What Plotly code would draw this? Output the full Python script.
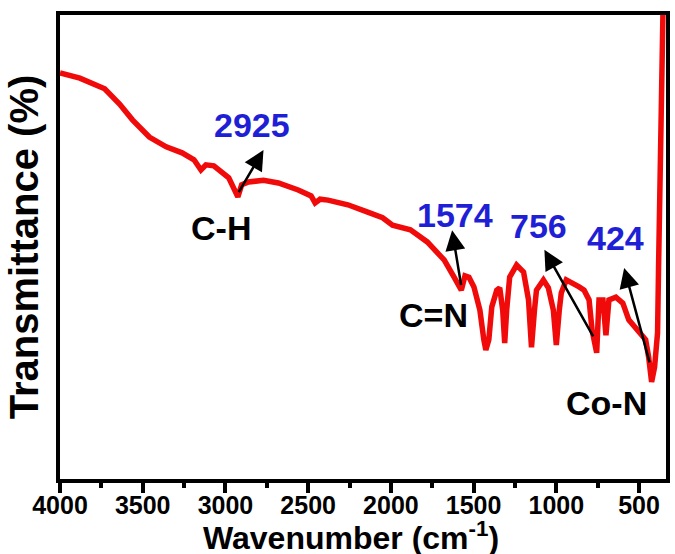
import plotly.graph_objects as go

# FTIR spectrum
wavenumber = [4000, 3880, 3730, 3640, 3562, 3460, 3358, 3262, 3190, 3148, 3118, 3070, 2980,
              2925, 2902, 2860, 2770, 2680, 2560, 2482, 2458, 2428, 2380, 2260, 2140, 2050,
              1990, 1882, 1780, 1678, 1618, 1574, 1552, 1528, 1498, 1462, 1438, 1426, 1408,
              1390, 1360, 1342, 1324, 1312, 1300, 1282, 1240, 1198, 1168, 1150, 1132, 1120,
              1078, 1048, 1018, 1000, 982, 970, 940, 898, 862, 832, 802, 784, 756, 742, 718,
              700, 682, 640, 598, 562, 502, 460, 442, 424, 406, 388, 382, 370, 358, 352]
transmittance = [87.5, 86.4, 84.1, 80.8, 77.4, 73.7, 71.6, 70.3, 68.8, 66.6, 67.7, 67.5, 64.9,
                 60.8, 63.4, 64.0, 64.4, 63.8, 62.3, 61.0, 59.5, 60.3, 60.1, 59.1, 57.5, 56.3,
                 54.7, 53.7, 51.1, 47.2, 43.5, 40.7, 43.8, 43.5, 41.4, 36.4, 30.0, 27.8, 30.0,
                 37.1, 40.7, 41.2, 36.4, 29.3, 36.4, 43.5, 46.1, 44.6, 38.6, 28.4, 36.4, 40.7,
                 42.9, 41.2, 36.4, 28.9, 36.4, 40.1, 42.9, 42.2, 41.4, 40.7, 38.6, 32.1, 27.2,
                 38.6, 38.6, 31.0, 38.6, 39.2, 37.9, 34.3, 31.5, 30.0, 26.3, 20.9, 24.1, 31.5,
                 45.7, 70.9, 100.0, 107.5]

tick_vals = [4000, 3500, 3000, 2500, 2000, 1500, 1000, 500]
tick_text = ["4000", "3500", "3000", "2500", "2000", "1500", "1000", "500"]

# (label, label_x, label_y, color)
labels = [
    ("2925", 2840, 76.3, "#1f1fd6"),
    ("C-H", 3028, 54.1, "black"),
    ("1574", 1615, 57.0, "#1f1fd6"),
    ("C=N", 1745, 35.3, "black"),
    ("756", 1105, 54.5, "#1f1fd6"),
    ("424", 640, 51.9, "#1f1fd6"),
    ("Co-N", 695, 16.4, "black"),
]
# arrows: (tail_x, tail_y, tip_x, tip_y)
arrows = [
    (2925, 61.5, 2770, 70.9),
    (1574, 41.5, 1630, 53.6),
    (772, 30.4, 1072, 49.4),
    (434, 24.8, 590, 45.5),
]

FONT = "Arial, Liberation Sans, sans-serif"

fig = go.Figure()
fig.add_trace(go.Scatter(x=wavenumber, y=transmittance, mode="lines",
                         line=dict(color="#f00a0a", width=5.5), showlegend=False,
                         cliponaxis=True))

ann = []
for t, x, y, c in labels:
    ann.append(dict(x=x, y=y, xref="x", yref="y", text=f"<b>{t}</b>", showarrow=False,
                    font=dict(family=FONT, size=34, color=c)))
for tx, ty, hx, hy in arrows:
    ann.append(dict(x=hx, y=hy, ax=tx, ay=ty, xref="x", yref="y", axref="x", ayref="y",
                    text="", showarrow=True, arrowhead=2, arrowsize=1.6, arrowwidth=2.5,
                    arrowcolor="black"))
# x-axis title
ann.append(dict(x=0.48, y=-0.171, xref="paper", yref="paper", xanchor="center",
                yanchor="bottom", showarrow=False,
                text="<b>Wavenumber (cm<sup style='font-size:19px'>-1</sup>)</b>",
                font=dict(family=FONT, size=32, color="black")))

fig.update_layout(
    width=675, height=554,
    margin=dict(l=60, r=5, t=15, b=75),
    plot_bgcolor="white", paper_bgcolor="white",
    annotations=ann,
    xaxis=dict(range=[4000, 337], tickvals=tick_vals, ticktext=tick_text,
               showgrid=False, zeroline=False, showline=True, linecolor="black",
               linewidth=4, mirror=True, ticks="outside", ticklen=10, tickwidth=4,
               tickcolor="black", ticklabelstandoff=-9,
               minor=dict(dtick=250, ticks="outside", ticklen=5, tickwidth=4, tickcolor="black",
                          showgrid=False),
               tickfont=dict(family=FONT, size=25, color="black", weight="bold")),
    yaxis=dict(range=[0, 100], showticklabels=False, ticks="", showgrid=False,
               zeroline=False, showline=True, linecolor="black", linewidth=4, mirror=True,
               title=dict(text="<b>Transmittance (%)</b>",
                          font=dict(family=FONT, size=40, color="black"), standoff=6)),
)

fig.write_html("out.html")
